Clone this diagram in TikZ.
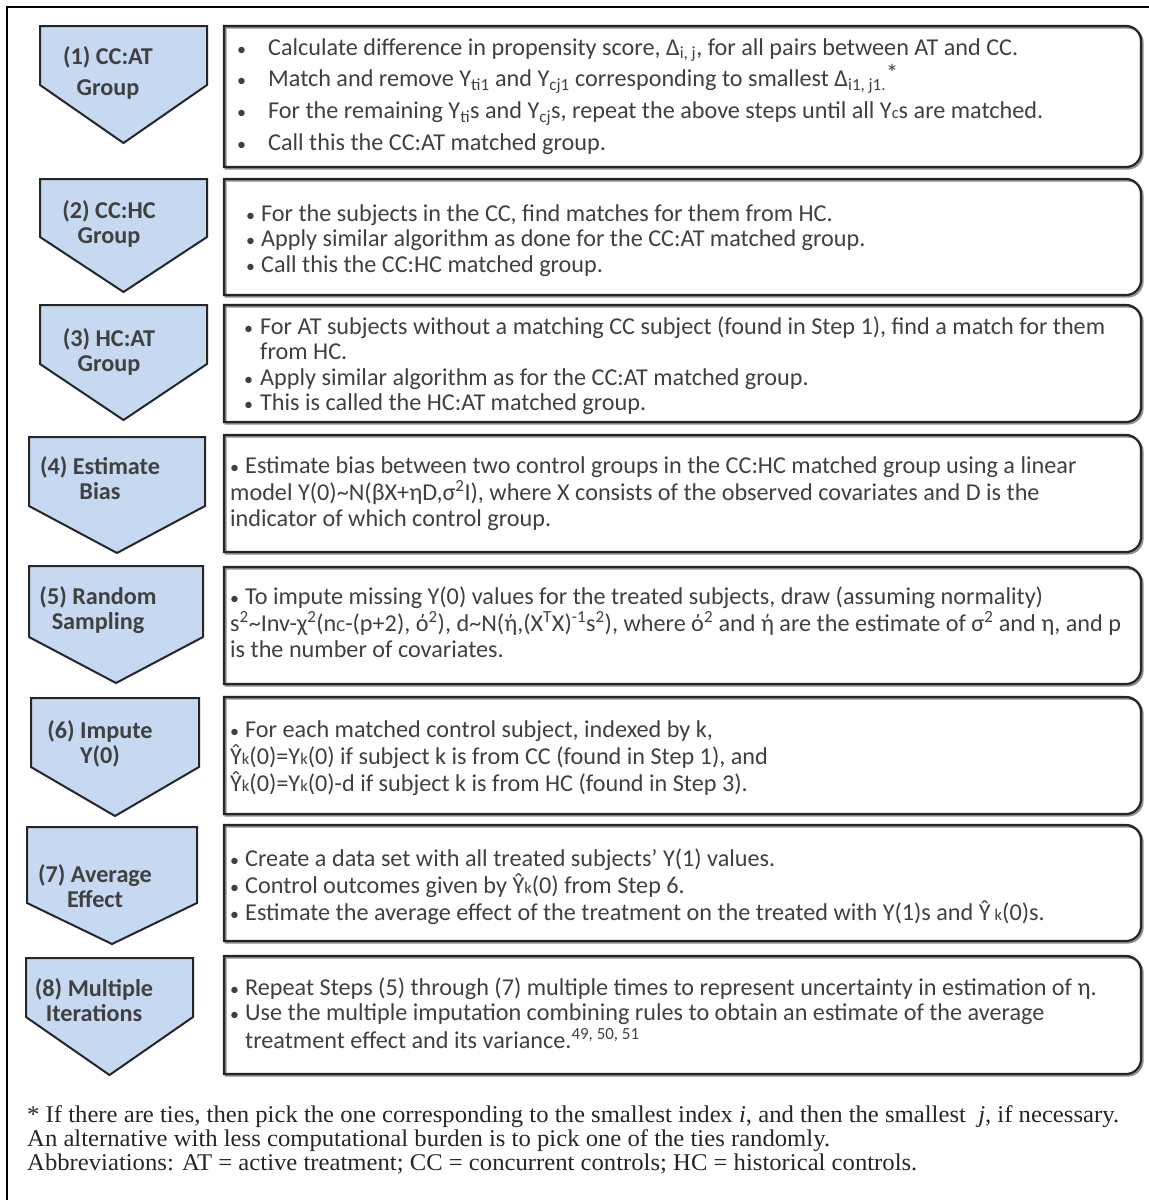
\documentclass[tikz,border=0pt]{standalone}
\usepackage{fontspec}
\usepackage{graphicx}
\setmainfont{Carlito}
\newfontfamily\ftn{Liberation Serif}
\definecolor{chevfill}{HTML}{C6D9F1}
\definecolor{txt}{HTML}{404040}
\definecolor{edge}{HTML}{262626}
\newlength\ftlen
\newsavebox\ftbox
\newcommand\bul[1]{\makebox[#1][l]{\fontsize{18}{18}\selectfont •}}
\newcommand\sm[1]{{\fontsize{16.5}{16.5}\selectfont #1}}
\newcommand\chev[5]{\draw[chevstyle] (#1,#3) -- (#2,#3) -- (#2,#4) -- ({(#1+#2)/2},#5) -- (#1,#4) -- cycle;}
\newcommand\rboxpath[2]{(224,#1) -- (1126,#1) arc[start angle=-90,end angle=0,radius=15] -- (1141,{#2-15}) arc[start angle=0,end angle=90,radius=15] -- (224,#2) -- cycle}
\newcommand\rbox[2]{\draw[shadowstyle] \rboxpath{#1+1.6}{#2+1.6};\draw[boxstyle] \rboxpath{#1}{#2};}
\newcommand\footfont{\ftn\fontsize{24}{24}\selectfont}
\tikzset{
  chevstyle/.style={draw=edge, line width=2pt, fill=chevfill, line join=miter},
  boxstyle/.style={draw=edge, line width=2.2pt},
  shadowstyle/.style={draw=black!45, line width=2pt, xshift=1.6pt},
  framestyle/.style={draw=black, line width=2.5pt},
  lbl/.style={anchor=base, inner sep=0pt, text=txt, font=\bfseries\fontsize{24.2}{25.5}\selectfont},
  body/.style={anchor=base west, inner sep=0pt, text=txt, font=\fontsize{24.2}{25.5}\selectfont},
  foot/.style={anchor=base west, inner sep=0pt, text=edge},
}
\begin{document}
\sbox\ftbox{\footfont * If there are ties, then pick the one corresponding to the smallest index \textit{i}, and then the smallest \ \textit{j}, if necessary.}%
\setlength\ftlen{\wd\ftbox}%
\pgfmathsetmacro\ftfac{1092/\ftlen}%
\begin{tikzpicture}[x=1pt,y=-1pt]
\useasboundingbox (0,0) rectangle (1149,1200);
\fill[white] (0,0) rectangle (1149,1200);
\draw[framestyle] (7,1200) -- (7,7) -- (1149,7);
% chevrons
\chev{40}{207}{26}{85}{143}
\chev{40}{207}{179}{237}{292}
\chev{40}{207}{305}{364}{420}
\chev{29}{205}{437}{506}{553}
\chev{29}{203}{566}{637}{683}
\chev{31}{199}{698}{767}{816}
\chev{27}{197}{827}{903}{944}
\chev{26}{193}{958}{1017}{1075}
% boxes
\rbox{26}{167}
\rbox{179}{295}
\rbox{305}{422}
\rbox{435}{552}
\rbox{567}{684}
\rbox{697}{814}
\rbox{825}{941}
\rbox{956}{1074}
% labels
\node[lbl] (l1) at (108,64) {\begin{tabular}[t]{@{}c@{}}(1) CC:AT\\[6pt]Group\end{tabular}};
\node[lbl] (l2) at (109,218) {\begin{tabular}[t]{@{}c@{}}(2) CC:HC\\Group\end{tabular}};
\node[lbl] (l3) at (109,346) {\begin{tabular}[t]{@{}c@{}}(3) HC:AT\\Group\end{tabular}};
\node[lbl] (l4) at (100,474) {\begin{tabular}[t]{@{}c@{}}(4) Estimate\\Bias\end{tabular}};
\node[lbl] (l5) at (98,604) {\begin{tabular}[t]{@{}c@{}}(5) Random\\Sampling\end{tabular}};
\node[lbl] (l6) at (100,738) {\begin{tabular}[t]{@{}c@{}}(6) Impute\\Y(0)\end{tabular}};
\node[lbl] (l7) at (95,882) {\begin{tabular}[t]{@{}c@{}}(7) Average\\Effect\end{tabular}};
\node[lbl] (l8) at (94,996) {\begin{tabular}[t]{@{}c@{}}(8) Multiple\\Iterations\end{tabular}};
% texts
\node[body, font=\fontsize{24.2}{31.7}\selectfont] (t1) at (237,55) {\begin{tabular}[t]{@{}l@{}}
\bul{31pt}Calculate difference in propensity score, Δ\textsubscript{i, j}, for all pairs between AT and CC.\\
\bul{31pt}Match and remove Y\textsubscript{ti1} and Y\textsubscript{cj1} corresponding to smallest Δ\textsubscript{i1, j1.}\raisebox{5pt}{*}\\
\bul{31pt}For the remaining Y\textsubscript{ti}s and Y\textsubscript{cj}s, repeat the above steps until all Y\sm{c}s are matched.\\
\bul{31pt}Call this the CC:AT matched group.
\end{tabular}};
\node[body] (t2) at (246,221) {\begin{tabular}[t]{@{}l@{}}
\bul{15pt}For the subjects in the CC, find matches for them from HC.\\
\bul{15pt}Apply similar algorithm as done for the CC:AT matched group.\\
\bul{15pt}Call this the CC:HC matched group.
\end{tabular}};
\node[body] (t3) at (244,334) {\begin{tabular}[t]{@{}l@{}}
\bul{16pt}For AT subjects without a matching CC subject (found in Step 1), find a match for them\\
\hspace*{16pt}from HC.\\
\bul{16pt}Apply similar algorithm as for the CC:AT matched group.\\
\bul{16pt}This is called the HC:AT matched group.
\end{tabular}};
\node[body] (t4) at (230,473) {\begin{tabular}[t]{@{}l@{}}
\bul{15pt}Estimate bias between two control groups in the CC:HC matched group using a linear\\
model Y(0)\textasciitilde N(βX+ηD,σ\textsuperscript{2}I), where X consists of the observed covariates and D is the\\
indicator of which control group.
\end{tabular}};
\node[body] (t5) at (230,604) {\begin{tabular}[t]{@{}l@{}}
\bul{15pt}To impute missing Y(0) values for the treated subjects, draw (assuming normality)\\
s\textsuperscript{2}\textasciitilde Inv-χ\textsuperscript{2}(n\sm{C}-(p+2), ό\textsuperscript{2}), d\textasciitilde N(ή,(X\textsuperscript{T}X)\textsuperscript{-1}s\textsuperscript{2}), where ό\textsuperscript{2} and ή are the estimate of σ\textsuperscript{2} and η, and p\\
is the number of covariates.
\end{tabular}};
\node[body] (t6) at (230,737) {\begin{tabular}[t]{@{}l@{}}
\bul{15pt}For each matched control subject, indexed by k,\\
Ŷ\sm{k}(0)=Y\sm{k}(0) if subject k is from CC (found in Step 1), and\\
Ŷ\sm{k}(0)=Y\sm{k}(0)-d if subject k is from HC (found in Step 3).
\end{tabular}};
\node[body] (t7) at (230,866) {\begin{tabular}[t]{@{}l@{}}
\bul{15pt}Create a data set with all treated subjects’ Y(1) values.\\
\bul{15pt}Control outcomes given by Ŷ\sm{k}(0) from Step 6.\\
\bul{15pt}Estimate the average effect of the treatment on the treated with Y(1)s and Ŷ\,\sm{k}(0)s.
\end{tabular}};
\node[body] (t8) at (230,995) {\begin{tabular}[t]{@{}l@{}}
\bul{15pt}Repeat Steps (5) through (7) multiple times to represent uncertainty in estimation of η.\\
\bul{15pt}Use the multiple imputation combining rules to obtain an estimate of the average\\
\hspace*{15pt}treatment effect and its variance.\textsuperscript{49, 50, 51}
\end{tabular}};
% footnote
\node[foot] (f1) at (27,1122) {\scalebox{\ftfac}[1]{\footfont * If there are ties, then pick the one corresponding to the smallest index \textit{i}, and then the smallest \ \textit{j}, if necessary.}};
\node[foot] (f2) at (27,1146) {\scalebox{\ftfac}[1]{\footfont An alternative with less computational burden is to pick one of the ties randomly.}};
\node[foot] (f3) at (27,1170) {\scalebox{\ftfac}[1]{\footfont Abbreviations: AT = active treatment; CC = concurrent controls; HC = historical controls.}};
\end{tikzpicture}
\end{document}
